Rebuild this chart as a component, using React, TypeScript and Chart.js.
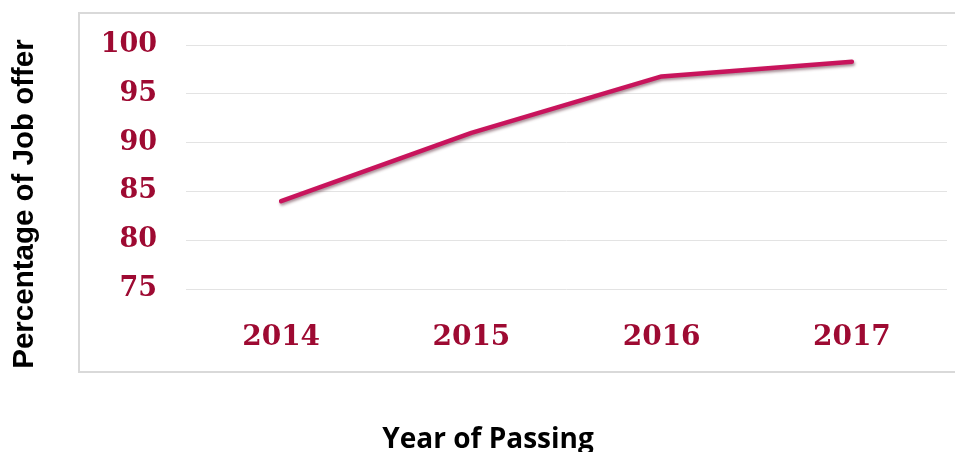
import React, { useEffect, useRef } from "react";
import { Chart, registerables } from "chart.js";

Chart.register(...registerables);

const years = ["2014", "2015", "2016", "2017"];
const jobOfferPct = [84, 91, 96.8, 98.3];
const yMin = 75;
const yMax = 100;
const yStep = 5;
const xTitle = "Year of Passing";
const yTitle = "Percentage of Job offer";

const W = 955;
const H = 452;

const framePlugin = {
  id: "framePlugin",
  beforeDraw(chart: any) {
    const ctx = chart.ctx;
    ctx.save();
    ctx.fillStyle = "#ffffff";
    ctx.fillRect(0, 0, chart.width, chart.height);
    ctx.strokeStyle = "#d9d9d9";
    ctx.lineWidth = 2;
    ctx.strokeRect(79, 13, chart.width + 20, 359);
    ctx.restore();
  },
  afterDraw(chart: any) {
    const ctx = chart.ctx;
    ctx.save();
    ctx.fillStyle = "#000000";
    ctx.font = "bold 28px 'Open Sans'";
    ctx.textAlign = "center";
    ctx.textBaseline = "alphabetic";
    ctx.fillText(xTitle, 488, 448);
    ctx.translate(33, 204);
    ctx.rotate(-Math.PI / 2);
    ctx.font = "bold 29.5px 'Liberation Sans'";
    ctx.fillText(yTitle, 0, 0);
    ctx.restore();
  },
  beforeDatasetDraw(chart: any) {
    const ctx = chart.ctx;
    ctx.save();
    ctx.shadowColor = "rgba(60,0,20,0.45)";
    ctx.shadowBlur = 3;
    ctx.shadowOffsetX = 1;
    ctx.shadowOffsetY = 2;
  },
  afterDatasetDraw(chart: any) {
    chart.ctx.restore();
  },
};

export default function App() {
  const ref = useRef<HTMLCanvasElement | null>(null);
  useEffect(() => {
    if (!ref.current) return;
    const chart = new Chart(ref.current, {
      type: "line",
      data: {
        labels: years,
        datasets: [
          {
            data: jobOfferPct,
            borderColor: "#c8145c",
            borderWidth: 4.5,
            borderCapStyle: "round",
            borderJoinStyle: "round",
            pointRadius: 0,
            tension: 0,
            fill: false,
          },
        ],
      },
      options: {
        responsive: false,
        animation: false,
        devicePixelRatio: 1,
        layout: { padding: { left: 0, right: 8, top: 41, bottom: 0 } },
        plugins: {
          legend: { display: false },
          tooltip: { enabled: false },
          title: { display: false },
        },
        scales: {
          x: {
            offset: true,
            grid: { display: false, drawTicks: false },
            border: { display: false },
            ticks: {
              color: "#9e0a32",
              padding: 32,
              font: { family: "'DejaVu Serif'", size: 28, weight: "bold" },
            },
            afterFit: (scale: any) => {
              scale.height = H - 289;
            },
          },
          y: {
            min: yMin,
            max: yMax,
            grid: { color: "#e3e3e3", lineWidth: 1, drawTicks: false },
            border: { display: false },
            ticks: {
              stepSize: yStep,
              color: "#9e0a32",
              padding: 29,
              font: { family: "'DejaVu Serif'", size: 27, weight: "bold" },
            },
            afterFit: (scale: any) => {
              scale.width = 186;
            },
          },
        },
      },
      plugins: [framePlugin],
    } as any);
    return () => chart.destroy();
  }, []);
  return (
    <div style={{ position: "fixed", left: 0, top: 0, width: W, height: H, background: "#fff" }}>
      <canvas ref={ref} width={W} height={H} style={{ width: W, height: H, display: "block" }} />
    </div>
  );
}
